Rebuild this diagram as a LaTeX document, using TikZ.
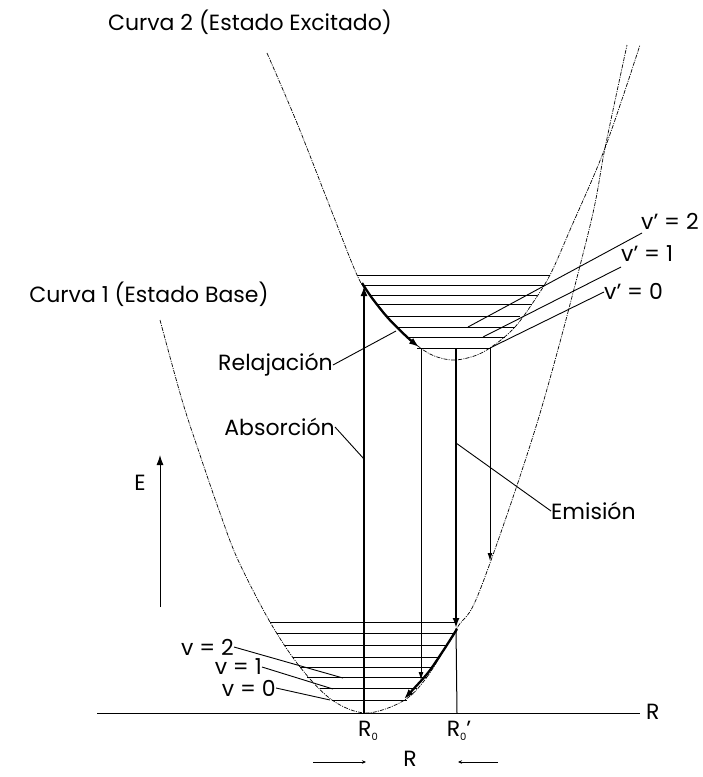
\documentclass[tikz,border=0pt]{standalone}
\usepackage{fontspec}
\setmainfont{Poppins}
\usetikzlibrary{arrows.meta}
\begin{document}
\begin{tikzpicture}[x=1pt,y=-1pt,
  pes/.style={line width=0.7pt, dash pattern=on 4pt off 1.2pt on 1pt off 1.2pt},
  lvl/.style={line width=0.8pt},
  boldtr/.style={line width=2.3pt},
  thintr/.style={line width=1pt},
  leader/.style={line width=0.9pt},
  bigtip/.style={-{Latex[length=10pt,width=7pt]}},
  smalltip/.style={-{Latex[length=8pt,width=5pt]}},
  lbl/.style={font=\fontsize{22}{26}\selectfont, inner sep=0pt},
]
\useasboundingbox[fill=white] (0,0) rectangle (703,777);

% potential curves
\draw[pes] plot[smooth, tension=0.55] coordinates {(267,53) (297,123) (330,207) (357,275) (370,295) (387,316) (407,337) (430,354) (453,360) (477,355) (497,343) (515,327) (532,304) (550,275) (570,230) (605,148) (640,45)};
\draw[pes] plot[smooth, tension=0.55] coordinates {(160,320) (182,400) (200,455) (220,513) (238,560) (270,622) (300,667) (332,700) (366,713) (403,701) (427,677) (457,628) (480,590) (538,420) (589,230) (605,148) (627,45)};

% vibrational levels, excited state
\foreach \y/\a/\b in {275/357/550, 285/362/545, 295/370/537, 304/378/532, 316/387/520, 327/397/515, 337/407/505, 348/417/490}
  \draw[lvl] (\a,\y) -- (\b,\y);
% vibrational levels, ground state
\foreach \y/\a/\b in {622/270/455, 633/277/455, 645/285/447, 657/293/440, 667/300/433, 677/307/427, 688/320/417, 700/332/407}
  \draw[lvl] (\a,\y) -- (\b,\y);

% axis
\coordinate (axL) at (97,713);
\coordinate (axR) at (640,713);
\draw[line width=0.8pt] (axL) -- (axR);
\node[lbl, anchor=west] (Rax) at (646,712) {R};

% energy arrow
\coordinate (Eb) at (160,607);
\coordinate (Et) at (160,455);
\draw[thintr, bigtip] (Eb) -- (Et);
\node[lbl] (E) at (140,483) {E};

% transitions
\coordinate (R0) at (364,713);
\coordinate (absTop) at (364,286);
\draw[boldtr, bigtip] (R0) -- (absTop);

\draw[boldtr, bigtip] plot[smooth, tension=0.5] coordinates {(362,283) (372,298) (388,318) (407,337) (419,347)};

\coordinate (t1a) at (421,348);
\coordinate (t1b) at (421,680);
\draw[thintr, smalltip] (t1a) -- (t1b);

\coordinate (emA) at (456,348);
\coordinate (emB) at (456,628);
\draw[boldtr, bigtip] (emA) -- (emB);

\coordinate (t3a) at (490,348);
\coordinate (t3b) at (490,561);
\draw[thintr, smalltip] (t3a) -- (t3b);

\coordinate (R0p) at (457,713);
\draw[thintr] (emB) -- (R0p);

\draw[boldtr, bigtip] plot[smooth, tension=0.5] coordinates {(457,629) (443,651) (427,674) (404,699)};

% labels
\node[lbl] (c2) at (250,22) {Curva 2 (Estado Excitado)};
\node[lbl] (c1) at (149,294) {Curva 1 (Estado Base)};

\node[lbl, anchor=east] (relaj) at (333,365) {Relajación};
\coordinate (relajP) at (396,331);
\draw[leader] (relaj.east) -- (relajP);

\node[lbl, anchor=east] (absor) at (335,427) {Absorción};
\coordinate (absP) at (364,459);
\draw[leader] (absor.east) -- (absP);

\node[lbl, anchor=west] (emis) at (551,511) {Emisión};
\coordinate (emP) at (456,443);
\draw[leader] (emP) -- (emis.west);

\node[lbl, anchor=west] (vp2) at (641,221) {v' = 2};
\node[lbl, anchor=west] (vp1) at (621,254) {v' = 1};
\node[lbl, anchor=west] (vp0) at (604,291) {v' = 0};
\coordinate (vp2a) at (468,327);
\coordinate (vp1a) at (483,337);
\coordinate (vp0a) at (490,348);
\draw[leader] (vp2a) -- (642,233);
\draw[leader] (vp1a) -- (621,267);
\draw[leader] (vp0a) -- (604,292);

\node[lbl, anchor=east] (v2) at (234,647) {v = 2};
\node[lbl, anchor=east] (v1) at (262,667) {v = 1};
\node[lbl, anchor=east] (v0) at (276,688) {v = 0};
\draw[leader] (v2.east) -- (343,678);
\draw[leader] (v1.east) -- (333,689);
\draw[leader] (v0.east) -- (330,700);

\node[lbl] (R0l) at (368,731) {R\raisebox{-0.35ex}{\fontsize{10}{11}\selectfont 0}};
\node[lbl] (R0pl) at (459,731) {R\raisebox{-0.35ex}{\fontsize{10}{11}\selectfont 0}'};

\node[lbl] (Rb) at (410,759) {R};
\coordinate (la) at (313,762);
\coordinate (lb) at (366,762);
\coordinate (ra) at (498,762);
\coordinate (rb) at (458,762);
\draw[line width=0.8pt, -{Stealth[length=4pt,width=3.5pt]}] (la) -- (lb);
\draw[line width=0.8pt, -{Stealth[length=4pt,width=3.5pt]}] (ra) -- (rb);
\end{tikzpicture}
\end{document}
